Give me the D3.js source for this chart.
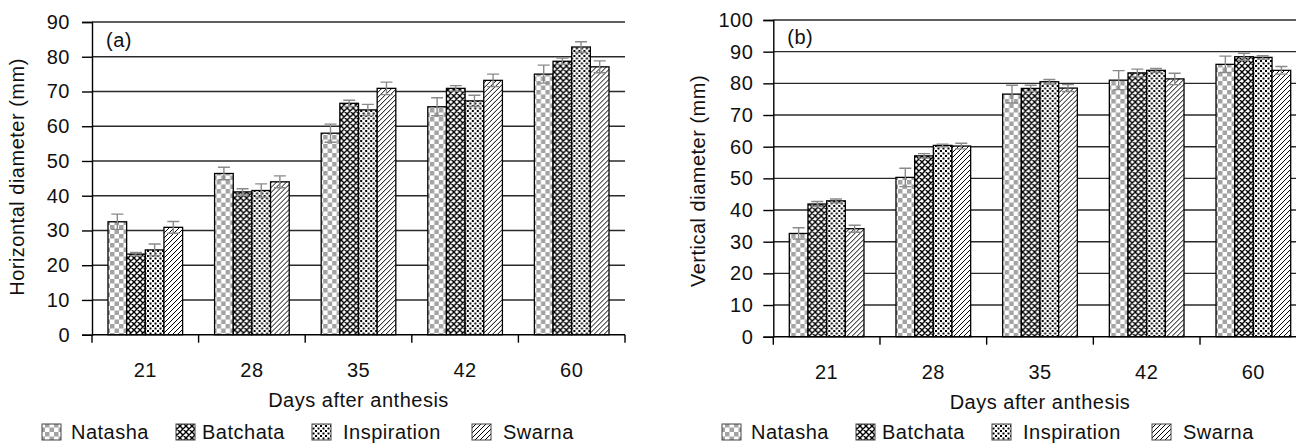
<!DOCTYPE html>
<html>
<head>
<meta charset="utf-8">
<script src="https://cdn.jsdelivr.net/npm/d3@7"></script>
<style>
body { margin: 0; background: #fff; }
text { font-family: "Liberation Sans", Arial, sans-serif; font-size: 20px; letter-spacing: 0.5px; fill: #111; }
</style>
</head>
<body>
<div id="chart"></div>
<script>
var days = ["21", "28", "35", "42", "60"];
var cultivars = ["Natasha", "Batchata", "Inspiration", "Swarna"];

// (a) horizontal diameter (mm)
var horizNatasha = [32.5, 46.4, 58.0, 65.6, 75.0];
var horizBatchata = [23.2, 41.1, 66.6, 70.9, 78.7];
var horizInspiration = [24.4, 41.5, 64.7, 67.3, 82.8];
var horizSwarna = [30.9, 44.0, 70.9, 73.2, 77.1];
var horizErrNatasha = [2.2, 1.8, 2.6, 2.6, 2.6];
var horizErrBatchata = [0.5, 0.9, 0.9, 0.8, 0.9];
var horizErrInspiration = [1.7, 1.9, 1.6, 1.6, 1.5];
var horizErrSwarna = [1.7, 1.7, 1.8, 1.8, 1.7];

// (b) vertical diameter (mm)
var vertNatasha = [32.6, 50.3, 76.6, 81.0, 86.0];
var vertBatchata = [41.9, 57.1, 78.4, 83.3, 88.4];
var vertInspiration = [42.9, 60.4, 80.5, 84.1, 88.2];
var vertSwarna = [34.1, 60.2, 78.5, 81.4, 84.1];
var vertErrNatasha = [1.8, 2.9, 2.8, 3.0, 2.6];
var vertErrBatchata = [0.8, 0.7, 1.0, 1.2, 1.1];
var vertErrInspiration = [0.6, 0.4, 0.7, 0.6, 0.5];
var vertErrSwarna = [1.1, 0.9, 1.1, 1.8, 1.2];

var yTicksA = [0, 10, 20, 30, 40, 50, 60, 70, 80, 90];
var yTicksB = [0, 10, 20, 30, 40, 50, 60, 70, 80, 90, 100];

var svg = d3.select("#chart").append("svg")
    .attr("width", 1296)
    .attr("height", 444);

// fill patterns, one per cultivar
var defs = svg.append("defs");
var p;
p = defs.append("pattern").attr("id", "pat-Natasha").attr("patternUnits", "userSpaceOnUse")
    .attr("width", 9).attr("height", 9);
p.append("rect").attr("width", 9).attr("height", 9).attr("fill", "#fff");
p.append("rect").attr("width", 4.5).attr("height", 4.5).attr("fill", "#a3a3a3");
p.append("rect").attr("x", 4.5).attr("y", 4.5).attr("width", 4.5).attr("height", 4.5).attr("fill", "#a3a3a3");

p = defs.append("pattern").attr("id", "pat-Batchata").attr("patternUnits", "userSpaceOnUse")
    .attr("width", 6).attr("height", 6);
p.append("rect").attr("width", 6).attr("height", 6).attr("fill", "#fff");
p.append("path").attr("d", "M0,0L6,6M-1,5L1,7M5,-1L7,1M6,0L0,6M-1,1L1,-1M5,7L7,5")
    .attr("stroke", "#000").attr("stroke-width", 1.4);

p = defs.append("pattern").attr("id", "pat-Inspiration").attr("patternUnits", "userSpaceOnUse")
    .attr("width", 5).attr("height", 5);
p.append("rect").attr("width", 5).attr("height", 5).attr("fill", "#fff");
p.append("rect").attr("width", 2).attr("height", 2).attr("fill", "#000");
p.append("rect").attr("x", 2.5).attr("y", 2.5).attr("width", 2).attr("height", 2).attr("fill", "#000");

p = defs.append("pattern").attr("id", "pat-Swarna").attr("patternUnits", "userSpaceOnUse")
    .attr("width", 5).attr("height", 5);
p.append("rect").attr("width", 5).attr("height", 5).attr("fill", "#fff");
p.append("path").attr("d", "M0,5L5,0M-1,1L1,-1M4,6L6,4")
    .attr("stroke", "#000").attr("stroke-width", 1);

function drawPanel(o) {
    var x0 = d3.scaleBand().domain(days).range([o.left, o.right]);
    var bw = x0.bandwidth();
    var x1 = d3.scaleBand().domain(cultivars).range([bw * 0.15, bw * 0.85]);
    var y = d3.scaleLinear().domain([0, o.max]).range([o.bottom, o.top]);
    var g = svg.append("g");

    // gridlines
    g.selectAll(".grid").data(o.ticks.slice(1)).enter().append("line")
        .attr("x1", o.left).attr("x2", o.right)
        .attr("y1", function (d) { return y(d); })
        .attr("y2", function (d) { return y(d); })
        .attr("stroke", "#2a2a2a").attr("stroke-width", 1.4);

    // y axis
    var yAxis = g.append("g")
        .attr("transform", "translate(" + o.left + ",0)")
        .call(d3.axisLeft(y).tickValues(o.ticks).tickSize(10).tickPadding(o.pad));
    yAxis.attr("font-size", null).attr("font-family", null);
    yAxis.select(".domain").attr("stroke", "#000").attr("stroke-width", 1.4);
    yAxis.selectAll(".tick line").attr("stroke", "#000").attr("stroke-width", 1.4);
    yAxis.selectAll(".tick text").attr("fill", "#111");

    // bars
    var groups = g.selectAll(".day").data(days).enter().append("g")
        .attr("transform", function (d) { return "translate(" + x0(d) + ",0)"; });
    function rows(d, i) {
        return cultivars.map(function (c) { return { c: c, v: o.values[c][i], e: o.errors[c][i] }; });
    }
    groups.selectAll("rect").data(rows).enter().append("rect")
        .attr("x", function (d) { return x1(d.c); })
        .attr("width", x1.bandwidth())
        .attr("y", function (d) { return y(d.v); })
        .attr("height", function (d) { return y(0) - y(d.v); })
        .attr("fill", function (d) { return "url(#pat-" + d.c + ")"; })
        .attr("stroke", "#000").attr("stroke-width", 1.3);

    // error bars
    groups.selectAll(".err").data(rows).enter().append("path")
        .attr("d", function (d) {
            var cx = x1(d.c) + x1.bandwidth() / 2, hi = y(d.v + d.e), lo = y(d.v - d.e);
            return "M" + cx + "," + lo + "V" + hi + "M" + (cx - 6) + "," + hi + "H" + (cx + 6) +
                "M" + (cx - 6) + "," + lo + "H" + (cx + 6);
        })
        .attr("fill", "none").attr("stroke", "#8a8a8a").attr("stroke-width", 1.4);

    // x axis line and category boundary ticks
    g.append("line").attr("x1", o.left).attr("x2", o.right)
        .attr("y1", y(0)).attr("y2", y(0)).attr("stroke", "#000").attr("stroke-width", 1.4);
    var bounds = days.map(function (d) { return x0(d); }).concat([o.right]);
    g.selectAll(".xt").data(bounds).enter().append("line")
        .attr("x1", function (d) { return d; }).attr("x2", function (d) { return d; })
        .attr("y1", y(0)).attr("y2", y(0) + 8)
        .attr("stroke", "#000").attr("stroke-width", 1.4);
    g.selectAll(".xl").data(days).enter().append("text")
        .attr("x", function (d) { return x0(d) + bw / 2; })
        .attr("y", o.bottom + 42)
        .attr("text-anchor", "middle")
        .text(function (d) { return d; });

    // titles
    g.append("text").attr("x", (o.left + o.right) / 2).attr("y", o.bottom + 72)
        .attr("text-anchor", "middle").text("Days after anthesis");
    g.append("text")
        .attr("transform", "translate(" + o.titleX + "," + o.titleY + ") rotate(-90)")
        .attr("text-anchor", "middle").attr("dy", "0.35em")
        .text(o.title);
    g.append("text").attr("x", o.left + 14).attr("y", o.labelY).text(o.label);

    // legend
    var swatchX = [42, 176, 312, 472], textX = [71, 202, 343, 503];
    var lg = g.selectAll(".lg").data(cultivars).enter().append("g")
        .attr("transform", "translate(" + o.shift + ",0)");
    lg.append("rect")
        .attr("x", function (d, i) { return swatchX[i]; })
        .attr("y", 424).attr("width", 19).attr("height", 16)
        .attr("fill", function (d) { return "url(#pat-" + d + ")"; })
        .attr("stroke", "#444").attr("stroke-width", 1);
    lg.append("text")
        .attr("x", function (d, i) { return textX[i]; })
        .attr("y", 439)
        .text(function (d) { return d; });
}

drawPanel({
    left: 92, right: 625, top: 22, bottom: 334.7, max: 90, ticks: yTicksA, pad: 12,
    values: { Natasha: horizNatasha, Batchata: horizBatchata, Inspiration: horizInspiration, Swarna: horizSwarna },
    errors: { Natasha: horizErrNatasha, Batchata: horizErrBatchata, Inspiration: horizErrInspiration, Swarna: horizErrSwarna },
    title: "Horizontal diameter (mm)", titleX: 17, titleY: 177,
    label: "(a)", labelY: 47, shift: 0
});

drawPanel({
    left: 773.3, right: 1306.7, top: 20, bottom: 336.7, max: 100, ticks: yTicksB, pad: 10,
    values: { Natasha: vertNatasha, Batchata: vertBatchata, Inspiration: vertInspiration, Swarna: vertSwarna },
    errors: { Natasha: vertErrNatasha, Batchata: vertErrBatchata, Inspiration: vertErrInspiration, Swarna: vertErrSwarna },
    title: "Vertical diameter (mm)", titleX: 698, titleY: 181,
    label: "(b)", labelY: 44, shift: 680
});
</script>
</body>
</html>
